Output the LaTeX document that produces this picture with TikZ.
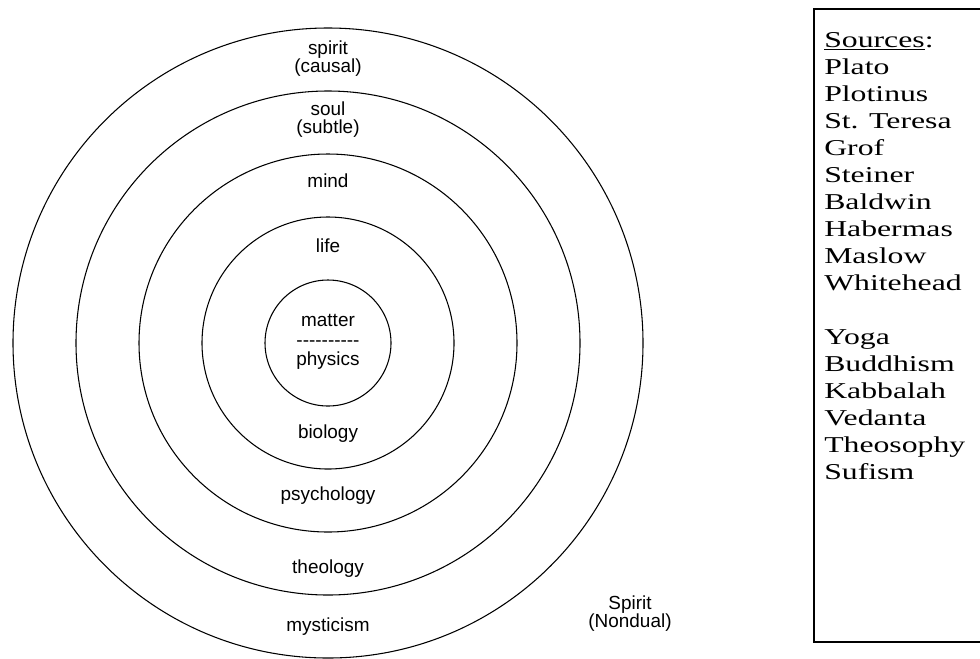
\documentclass[tikz,border=0pt]{standalone}
\usepackage{fontspec}
\setmainfont{Liberation Serif}
\newfontfamily\ringfont{Liberation Sans}
\newfontfamily\listfont[FakeStretch=1.4]{Liberation Serif}
\usetikzlibrary{positioning}

\begin{document}
\begin{tikzpicture}[x=0.75pt, y=-0.75pt,
    ring/.style={font=\ringfont\fontsize{14.2}{13.6}\selectfont, inner sep=0pt, align=center},
    src/.style={font=\listfont\fontsize{17}{20}\selectfont, inner sep=0pt, anchor=base west}]
\useasboundingbox (0,0) rectangle (980,658);
\def\cx{328}
\def\cy{343}
\def\r{63}
\def\ls{27}
\coordinate (c) at (\cx,\cy);
\foreach \k in {1,...,5} {
    \draw[line width=0.8pt] (c) circle [radius=\k*\r];
}
% levels, outside in
\node[ring] (spirit) at (\cx,59) {spirit\\(causal)};
\node[ring] (soul) at (\cx,120) {soul\\(subtle)};
\node[ring] (mind) at (\cx,181) {mind};
\node[ring] (life) at (\cx,246) {life};
\node[ring, font=\ringfont\fontsize{14.2}{14.6}\selectfont] (matter) at (\cx,342) {matter\\-{}-{}-{}-{}-{}-{}-{}-{}-{}-\\physics};
\node[ring] (biology) at (\cx,434) {biology};
\node[ring] (psychology) at (\cx,496) {psychology};
\node[ring] (theology) at (\cx,569) {theology};
\node[ring] (mysticism) at (\cx,627) {mysticism};
\node[ring] (nondual) at (630,614) {Spirit\\(Nondual)};
% sources box
\draw[line width=1.5pt] (814,9) rectangle (990,642);
\node[src] (sources) at (824,47) {\underline{Sources}:};
\foreach \name [count=\i] in {Plato,Plotinus,St. Teresa,Grof,Steiner,Baldwin,Habermas,Maslow,Whitehead} {
    \node[src] (phil\i) at (824,47+\i*\ls) {\name};
}
\foreach \name [count=\i] in {Yoga,Buddhism,Kabbalah,Vedanta,Theosophy,Sufism} {
    \node[src] (trad\i) at (824,47+\i*\ls+10*\ls) {\name};
}
\end{tikzpicture}
\end{document}
